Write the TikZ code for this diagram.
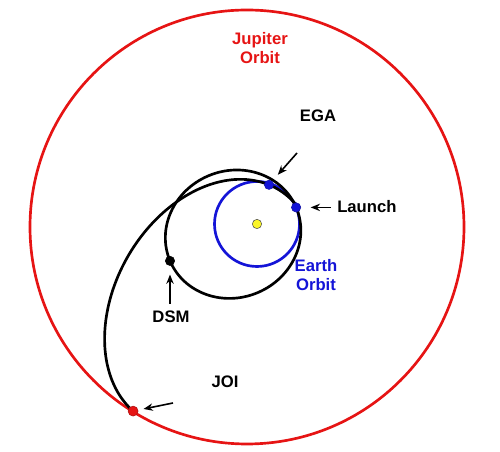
\documentclass[tikz,border=0pt]{standalone}
\usepackage{fontspec}
\setmainfont{Liberation Sans}
\usetikzlibrary{arrows.meta}
\definecolor{jred}{RGB}{230,20,20}
\definecolor{eblue}{RGB}{20,20,215}
\definecolor{sunyel}{RGB}{250,245,40}
\begin{document}
\begin{tikzpicture}[x=0.75pt,y=0.75pt,
  orbit/.style={line width=2pt},
  dot/.style={circle,inner sep=0pt,minimum size=7pt,draw=#1!75!black,line width=0.4pt,fill=#1},
  lbl/.style={font=\bfseries\fontsize{12.5}{14.5}\selectfont,inner sep=0pt,align=center},
  pointer/.style={line width=1.2pt,-{Stealth[length=7pt,width=5.5pt]}}]
\useasboundingbox (0,0) rectangle (500,452);
% orbits
\draw[orbit,jred] (247,225) circle[radius=217];
\draw[orbit,eblue] (257,228) circle[radius=42.5];
\draw[orbit,rotate around={23:(233.1,217.8)}] (233.1,217.8) ellipse[x radius=68.5,y radius=63.4];
\draw[orbit] plot[domain=22:236.5,samples=160,smooth]
  ({257+68.75/(1+0.695*cos(\x-60))*cos(\x)},{228+68.75/(1+0.695*cos(\x-60))*sin(\x)});
% bodies and events
\node[dot=sunyel,draw=black!70] (sun) at (257,228) {};
\node[dot=eblue] (launch) at (296.1,244.6) {};
\node[dot=eblue] (ega) at (269,267.2) {};
\node[dot=black] (dsm) at (170,191.1) {};
\node[dot=jred,minimum size=7.5pt] (joi) at (133.1,40.9) {};
% pointer tails
\coordinate (egaT) at (297,299);
\coordinate (launchT) at (331,244.6);
\coordinate (dsmT) at (170,148);
\coordinate (joiT) at (173,49);
\draw[pointer,shorten >=6.3pt] (egaT) -- (ega);
\draw[pointer,shorten >=7.2pt] (launchT) -- (launch);
\draw[pointer,shorten >=6.5pt] (dsmT) -- (dsm);
\draw[pointer,shorten >=4pt] (joiT) -- (joi);
% labels
\node[lbl,text=jred] (jlab) at (260,404) {Jupiter\\Orbit};
\node[lbl] (egalab) at (318,336) {EGA};
\node[lbl,anchor=west] (launchlab) at (337,245) {Launch};
\node[lbl,text=eblue] (elab) at (316,177) {Earth\\Orbit};
\node[lbl] (dsmlab) at (171,135) {DSM};
\node[lbl] (joilab) at (225,70) {JOI};
\end{tikzpicture}
\end{document}
